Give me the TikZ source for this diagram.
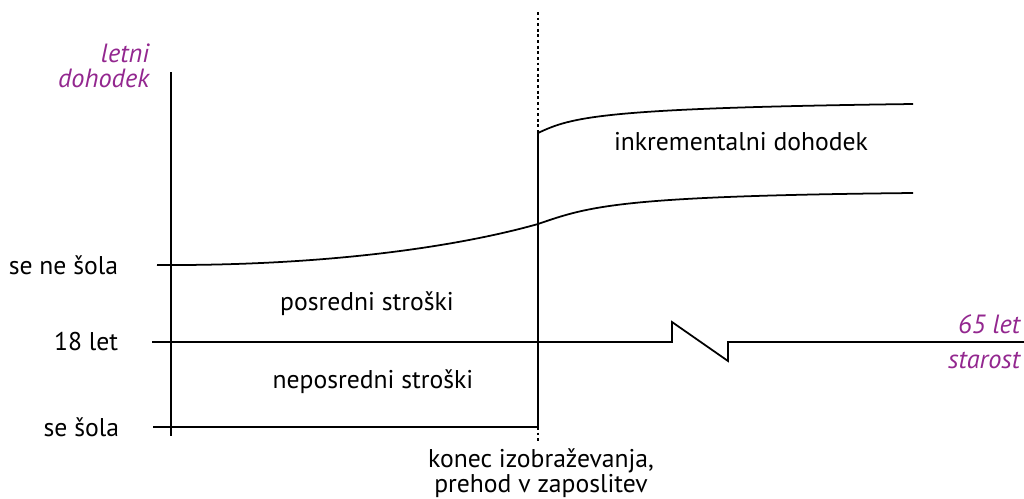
\documentclass[tikz,border=0pt]{standalone}
\usepackage{fontspec}
\setmainfont{PT Sans}
\usepackage{tikz}
\usetikzlibrary{calc}
\usepackage{xcolor}
\definecolor{lila}{RGB}{147,39,143}

\begin{document}
\begin{tikzpicture}[x=0.02cm,y=-0.02cm,line width=1pt,
  lab/.style={font=\fontsize{14.6}{12.5}\selectfont,inner sep=0pt},
  ilab/.style={lab,text=lila,font=\fontsize{15}{14}\selectfont\itshape}]
  \useasboundingbox (0,0) rectangle (1024,498);
  % axes
  \draw (171,72) -- (171,436);
  \draw (153,427) -- (538,427);
  \draw (152,342) -- (672,342) -- (672,322) -- (728,361) -- (728,342) -- (1024,342);
  % end of schooling
  \draw[dash pattern=on 1.6pt off 1.6pt,line width=1.1pt] (538,12) -- (538,133);
  \draw (538,133) -- (538,427);
  \draw[dash pattern=on 1.6pt off 1.6pt,line width=1.1pt] (538,427) -- (538,443);
  % income curves
  \draw (157,265) .. controls (330,266) and (460,246) .. (538,224)
    .. controls (590,206) and (620,196) .. (913,193);
  \draw (538,133) .. controls (572,117) and (600,108) .. (913,104);
  % labels
  \node[ilab,align=right,anchor=east] (income) at (150,66) {letni\\dohodek};
  \node[lab,anchor=east] (noschool) at (119,265) {se ne šola};
  \node[lab,anchor=east] (age18) at (119,342) {18 let};
  \node[lab,anchor=east] (school) at (120,427) {se šola};
  \node[lab] (indirect) at (367,304) {posredni stroški};
  \node[lab] (direct) at (373,382) {neposredni stroški};
  \node[lab] (incr) at (741,142) {inkrementalni dohodek};
  \node[ilab,anchor=east] (age65) at (1021,324) {65 let};
  \node[ilab,anchor=east] (age) at (1021,360) {starost};
  \node[lab,align=center] (endedu) at (541,473) {konec izobraževanja,\\prehod v zaposlitev};
\end{tikzpicture}
\end{document}
